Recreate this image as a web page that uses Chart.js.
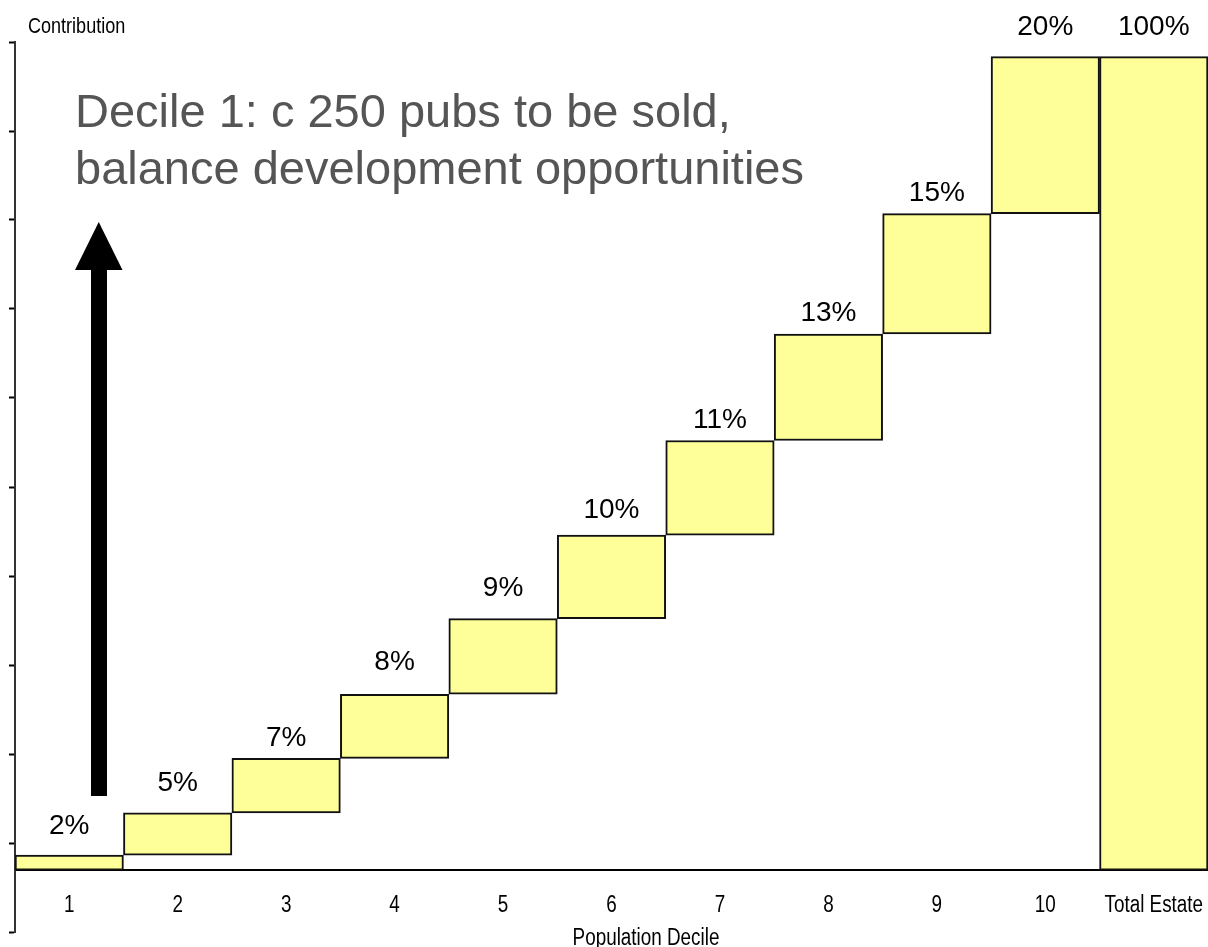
<!DOCTYPE html>
<html>
<head>
<meta charset="utf-8">
<script src="https://cdn.jsdelivr.net/npm/chart.js@4/dist/chart.umd.min.js"></script>
<style>
  html, body { margin: 0; padding: 0; background: #fff; }
  #wrap { width: 1208px; height: 947px; position: relative; }
</style>
</head>
<body>
<div id="wrap"><canvas id="waterfall"></canvas></div>
<script>
// Categories along the x axis
const deciles = ['1', '2', '3', '4', '5', '6', '7', '8', '9', '10', 'Total Estate'];
// Contribution of each population decile (% of estate)
const contributions = [1.85, 5.2, 6.7, 7.87, 9.3, 10.26, 11.64, 13.09, 14.8, 19.29];
const totalEstate = 100;
// Labels printed above each bar
const valueLabels = ['2%', '5%', '7%', '8%', '9%', '10%', '11%', '13%', '15%', '20%', '100%'];

// y axis extent (in %), 10 equal tick steps
const yMin = -7.6;
const yMax = 101.8;

// distance from bar top to label baseline (px)
const labelGap = [21, 22, 12.6, 24, 23, 17, 12.4, 12.6, 12.5, 22, 22];

// floating bars: each decile starts where the previous one ended
const ranges = [];
let running = 0;
contributions.forEach(v => {
    ranges.push([running, running + v]);
    running += v;
});
ranges.push([0, totalEstate]);

const sans = '"Liberation Sans", Arial, sans-serif';
const NARROW = 0.82; // no Arial Narrow here, squeeze regular glyphs instead

function narrowText(ctx, text, x, y) {
    ctx.save();
    ctx.scale(NARROW, 1);
    ctx.fillText(text, x / NARROW, y);
    ctx.restore();
}

// squeeze the x tick labels the same way
const narrowTicks = {
    id: 'narrowTicks',
    afterLayout(chart) {
        const sc = chart.scales.x;
        if (sc._narrow) return;
        sc._narrow = true;
        sc.drawLabels = function (area) {
            const c = this.ctx;
            const fill = c.fillText;
            c.fillText = function (t, x, y) {
                this.save();
                this.scale(NARROW, 1);
                fill.call(this, t, x / NARROW, y);
                this.restore();
            };
            Chart.CategoryScale.prototype.drawLabels.call(this, area);
            delete c.fillText;
        };
    }
};

// labels, annotation text and arrow
const overlay = {
    id: 'overlay',
    afterDatasetsDraw(chart) {
        const ctx = chart.ctx;
        const meta = chart.getDatasetMeta(0);
        ctx.save();

        // value labels over bars
        ctx.fillStyle = '#000';
        ctx.font = '28px ' + sans;
        ctx.textAlign = 'center';
        ctx.textBaseline = 'alphabetic';
        meta.data.forEach((bar, i) => {
            const top = Math.min(bar.y, bar.base);
            ctx.fillText(valueLabels[i], bar.x, top - labelGap[i]);
        });

        // axis captions
        ctx.font = '22px ' + sans;
        ctx.textAlign = 'left';
        narrowText(ctx, 'Contribution', 28, 33);
        ctx.font = '23px ' + sans;
        ctx.textAlign = 'center';
        narrowText(ctx, 'Population Decile', 646, 945);

        // annotation
        ctx.fillStyle = '#555555';
        ctx.font = '47px ' + sans;
        ctx.textAlign = 'left';
        ctx.fillText('Decile 1: c 250 pubs to be sold,', 75, 127);
        ctx.fillText('balance development opportunities', 75, 184);

        // arrow
        ctx.fillStyle = '#000';
        ctx.fillRect(91, 268, 16, 528);
        ctx.beginPath();
        ctx.moveTo(75, 270);
        ctx.lineTo(122.5, 270);
        ctx.lineTo(98.75, 222);
        ctx.closePath();
        ctx.fill();

        ctx.restore();
    }
};

const ctx = document.getElementById('waterfall').getContext('2d');
new Chart(ctx, {
    type: 'bar',
    data: {
        labels: deciles,
        datasets: [{
            label: 'Contribution',
            data: ranges,
            backgroundColor: '#FFFF99',
            borderColor: '#111',
            borderWidth: 2,
            borderSkipped: false,
            barPercentage: 1,
            categoryPercentage: 1
        }]
    },
    options: {
        responsive: true,
        maintainAspectRatio: false,
        animation: false,
        layout: { padding: { top: 42, bottom: 15, left: 9, right: 0 } },
        plugins: {
            legend: { display: false },
            tooltip: { enabled: false }
        },
        scales: {
            x: {
                position: { y: 0 },
                grid: { display: true, drawOnChartArea: false, drawTicks: false },
                border: { display: true, color: '#000', width: 2 },
                ticks: {
                    color: '#000',
                    padding: 22,
                    maxRotation: 0,
                    autoSkip: false,
                    font: { family: sans, size: 23 }
                },
                afterFit(scale) {
                    // labels sit inside their categories, no side padding wanted
                    scale.paddingLeft = 0;
                    scale.paddingRight = 0;
                }
            },
            y: {
                min: yMin,
                max: yMax,
                afterBuildTicks(scale) {
                    const step = (yMax - yMin) / 10;
                    const t = [];
                    for (let i = 0; i <= 10; i++) t.push({ value: yMin + i * step });
                    scale.ticks = t;
                },
                grid: {
                    display: true,
                    drawOnChartArea: false,
                    drawTicks: true,
                    tickLength: 6,
                    tickColor: '#000',
                    tickWidth: 2
                },
                border: { display: true, color: '#333', width: 2 },
                ticks: { display: false }
            }
        }
    },
    plugins: [narrowTicks, overlay]
});
</script>
</body>
</html>
